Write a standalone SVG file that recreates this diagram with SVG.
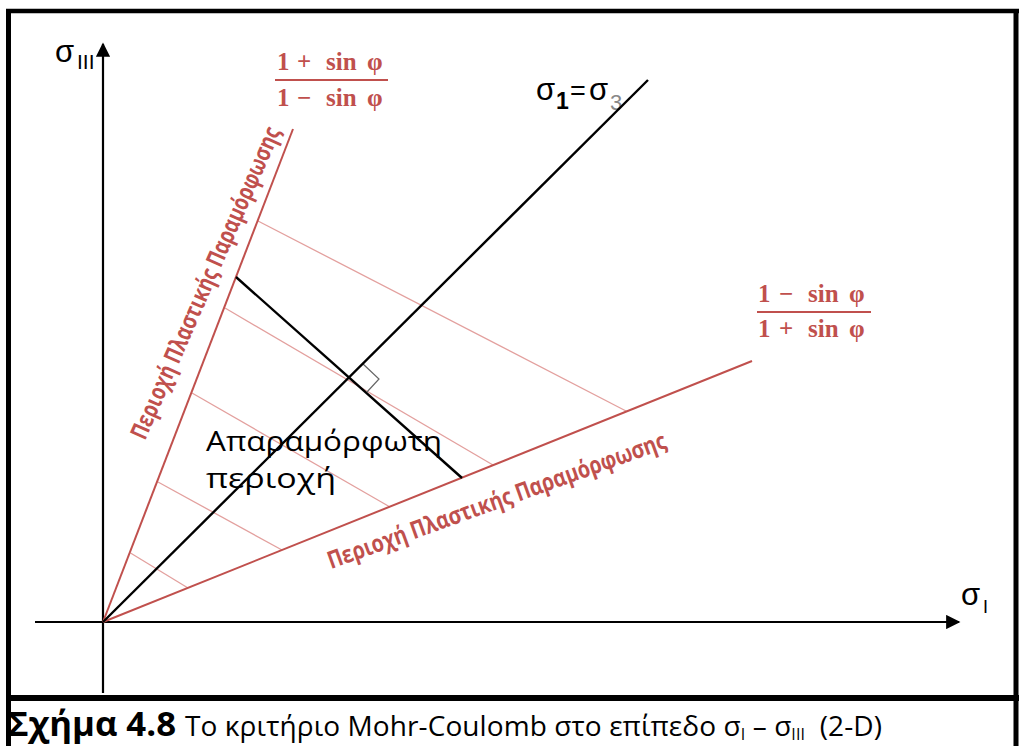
<svg xmlns="http://www.w3.org/2000/svg" width="1019" height="746" viewBox="0 0 1019 746">
<style>
.frame{stroke:#000;fill:none}
.axis{stroke:#000;stroke-width:2.2;fill:none}
.bound{stroke:#C0504D;stroke-width:2;fill:none}
.hatch{stroke:#E3A09E;stroke-width:1.3;fill:none}
.blk{stroke:#000;stroke-width:2.4;fill:none}
.sig{font-family:"Liberation Sans",Arial,sans-serif;fill:#000}
.frac{font-family:"Liberation Serif","Times New Roman",serif;font-weight:bold;fill:#C0504D;font-size:25px}
.zone{font-family:"Open Sans","Noto Sans",sans-serif;font-weight:bold;fill:#C0504D;font-size:24px}
.lbl{font-family:"Open Sans","Noto Sans",sans-serif;fill:#000;font-size:27px}
.cap{font-family:"Open Sans","Noto Sans",sans-serif;fill:#000}
</style>
<defs>
<marker id="arr" viewBox="0 0 10 10" refX="9" refY="5" markerWidth="7" markerHeight="6.5" markerUnits="strokeWidth" orient="auto">
<path d="M0,0 L10,5 L0,10 z" fill="#000"/>
</marker>
</defs>
<rect width="1019" height="746" fill="#fff"/>
<g id="frame">
<line class="frame" x1="6" y1="11" x2="1019" y2="11" stroke-width="4.5"/>
<line class="frame" x1="8.5" y1="9" x2="8.5" y2="746" stroke-width="5"/>
<line class="frame" x1="1016" y1="9" x2="1016" y2="746" stroke-width="5"/>
<line class="frame" x1="6" y1="698" x2="1019" y2="698" stroke-width="6"/>
</g>
<g id="connectors">
<line class="axis" x1="103" y1="693" x2="103" y2="44" marker-end="url(#arr)"/>
<line class="axis" x1="35" y1="622" x2="959" y2="622" marker-end="url(#arr)"/>
<line class="hatch" x1="258" y1="221" x2="627" y2="411.5"/>
<line class="hatch" x1="225" y1="308" x2="493" y2="465"/>
<line class="hatch" x1="192" y1="393" x2="390" y2="507"/>
<line class="hatch" x1="158" y1="482" x2="282" y2="550"/>
<line class="hatch" x1="130.5" y1="553" x2="188" y2="588"/>
<line class="bound" x1="103" y1="622" x2="293" y2="129"/>
<line class="bound" x1="103" y1="622" x2="752" y2="361"/>
<line class="blk" x1="236" y1="277" x2="462" y2="478"/>
<polyline points="362,363 379,379 367,392" fill="none" stroke="#666" stroke-width="1.2"/>
</g>
<g id="label-sigma3">
<text class="sig" x="55" y="62" font-size="31">σ</text>
<text class="sig" x="77" y="69" font-size="21">III</text>
</g>
<g id="label-sigma1">
<text class="sig" x="961" y="605" font-size="31">σ</text>
<text class="sig" x="983" y="613" font-size="18">I</text>
</g>
<g id="label-diagonal">
<text class="sig" x="536" y="100" font-size="31">σ</text>
<text class="sig" x="556" y="109" font-size="23" font-weight="bold">1</text>
<text class="sig" x="570" y="100" font-size="27">=</text>
<text class="sig" x="589" y="100" font-size="31">σ</text>
<text class="sig" x="610" y="110" font-size="22" style="fill:#888">3</text>
</g>
<g id="diagonal">
<line class="blk" x1="103" y1="622" x2="648" y2="80"/>
</g>
<g id="frac-upper">
<text class="frac" y="70"><tspan x="277">1</tspan><tspan x="297">+</tspan><tspan x="326">sin</tspan><tspan x="367">φ</tspan></text>
<line x1="275" y1="80" x2="388" y2="80" stroke="#C0504D" stroke-width="1.8"/>
<text class="frac" y="106"><tspan x="277">1</tspan><tspan x="297">−</tspan><tspan x="326">sin</tspan><tspan x="367">φ</tspan></text>
</g>
<g id="frac-lower">
<text class="frac" y="302"><tspan x="758">1</tspan><tspan x="779">−</tspan><tspan x="808">sin</tspan><tspan x="849">φ</tspan></text>
<line x1="757" y1="312" x2="871" y2="312" stroke="#C0504D" stroke-width="1.8"/>
<text class="frac" y="337"><tspan x="758">1</tspan><tspan x="779">+</tspan><tspan x="808">sin</tspan><tspan x="849">φ</tspan></text>
</g>
<g id="zone-upper">
<text class="zone" transform="translate(145,441) rotate(-66.3)" textLength="338" lengthAdjust="spacingAndGlyphs">Περιοχή Πλαστικής Παραμόρφωσης</text>
</g>
<g id="zone-lower">
<text class="zone" transform="translate(331,569) rotate(-19.8)" textLength="358" lengthAdjust="spacingAndGlyphs">Περιοχή Πλαστικής Παραμόρφωσης</text>
</g>
<g id="elastic-zone">
<text class="lbl" x="206" y="451" textLength="236" lengthAdjust="spacingAndGlyphs">Απαραμόρφωτη</text>
<text class="lbl" x="206" y="488" textLength="130" lengthAdjust="spacingAndGlyphs">περιοχή</text>
</g>
<g id="caption">
<text class="cap" x="8" y="736" font-size="34" font-weight="bold" textLength="168" lengthAdjust="spacingAndGlyphs">Σχήμα 4.8</text>
<text class="cap" x="185" y="736" font-size="28" textLength="697" lengthAdjust="spacing">Το κριτήριο Mohr-Coulomb στο επίπεδο σ<tspan font-size="16" dy="4">I</tspan><tspan dy="-4"> – σ</tspan><tspan font-size="16" dy="4">III</tspan><tspan dy="-4" xml:space="preserve">  (2-D)</tspan></text>
</g>
</svg>
